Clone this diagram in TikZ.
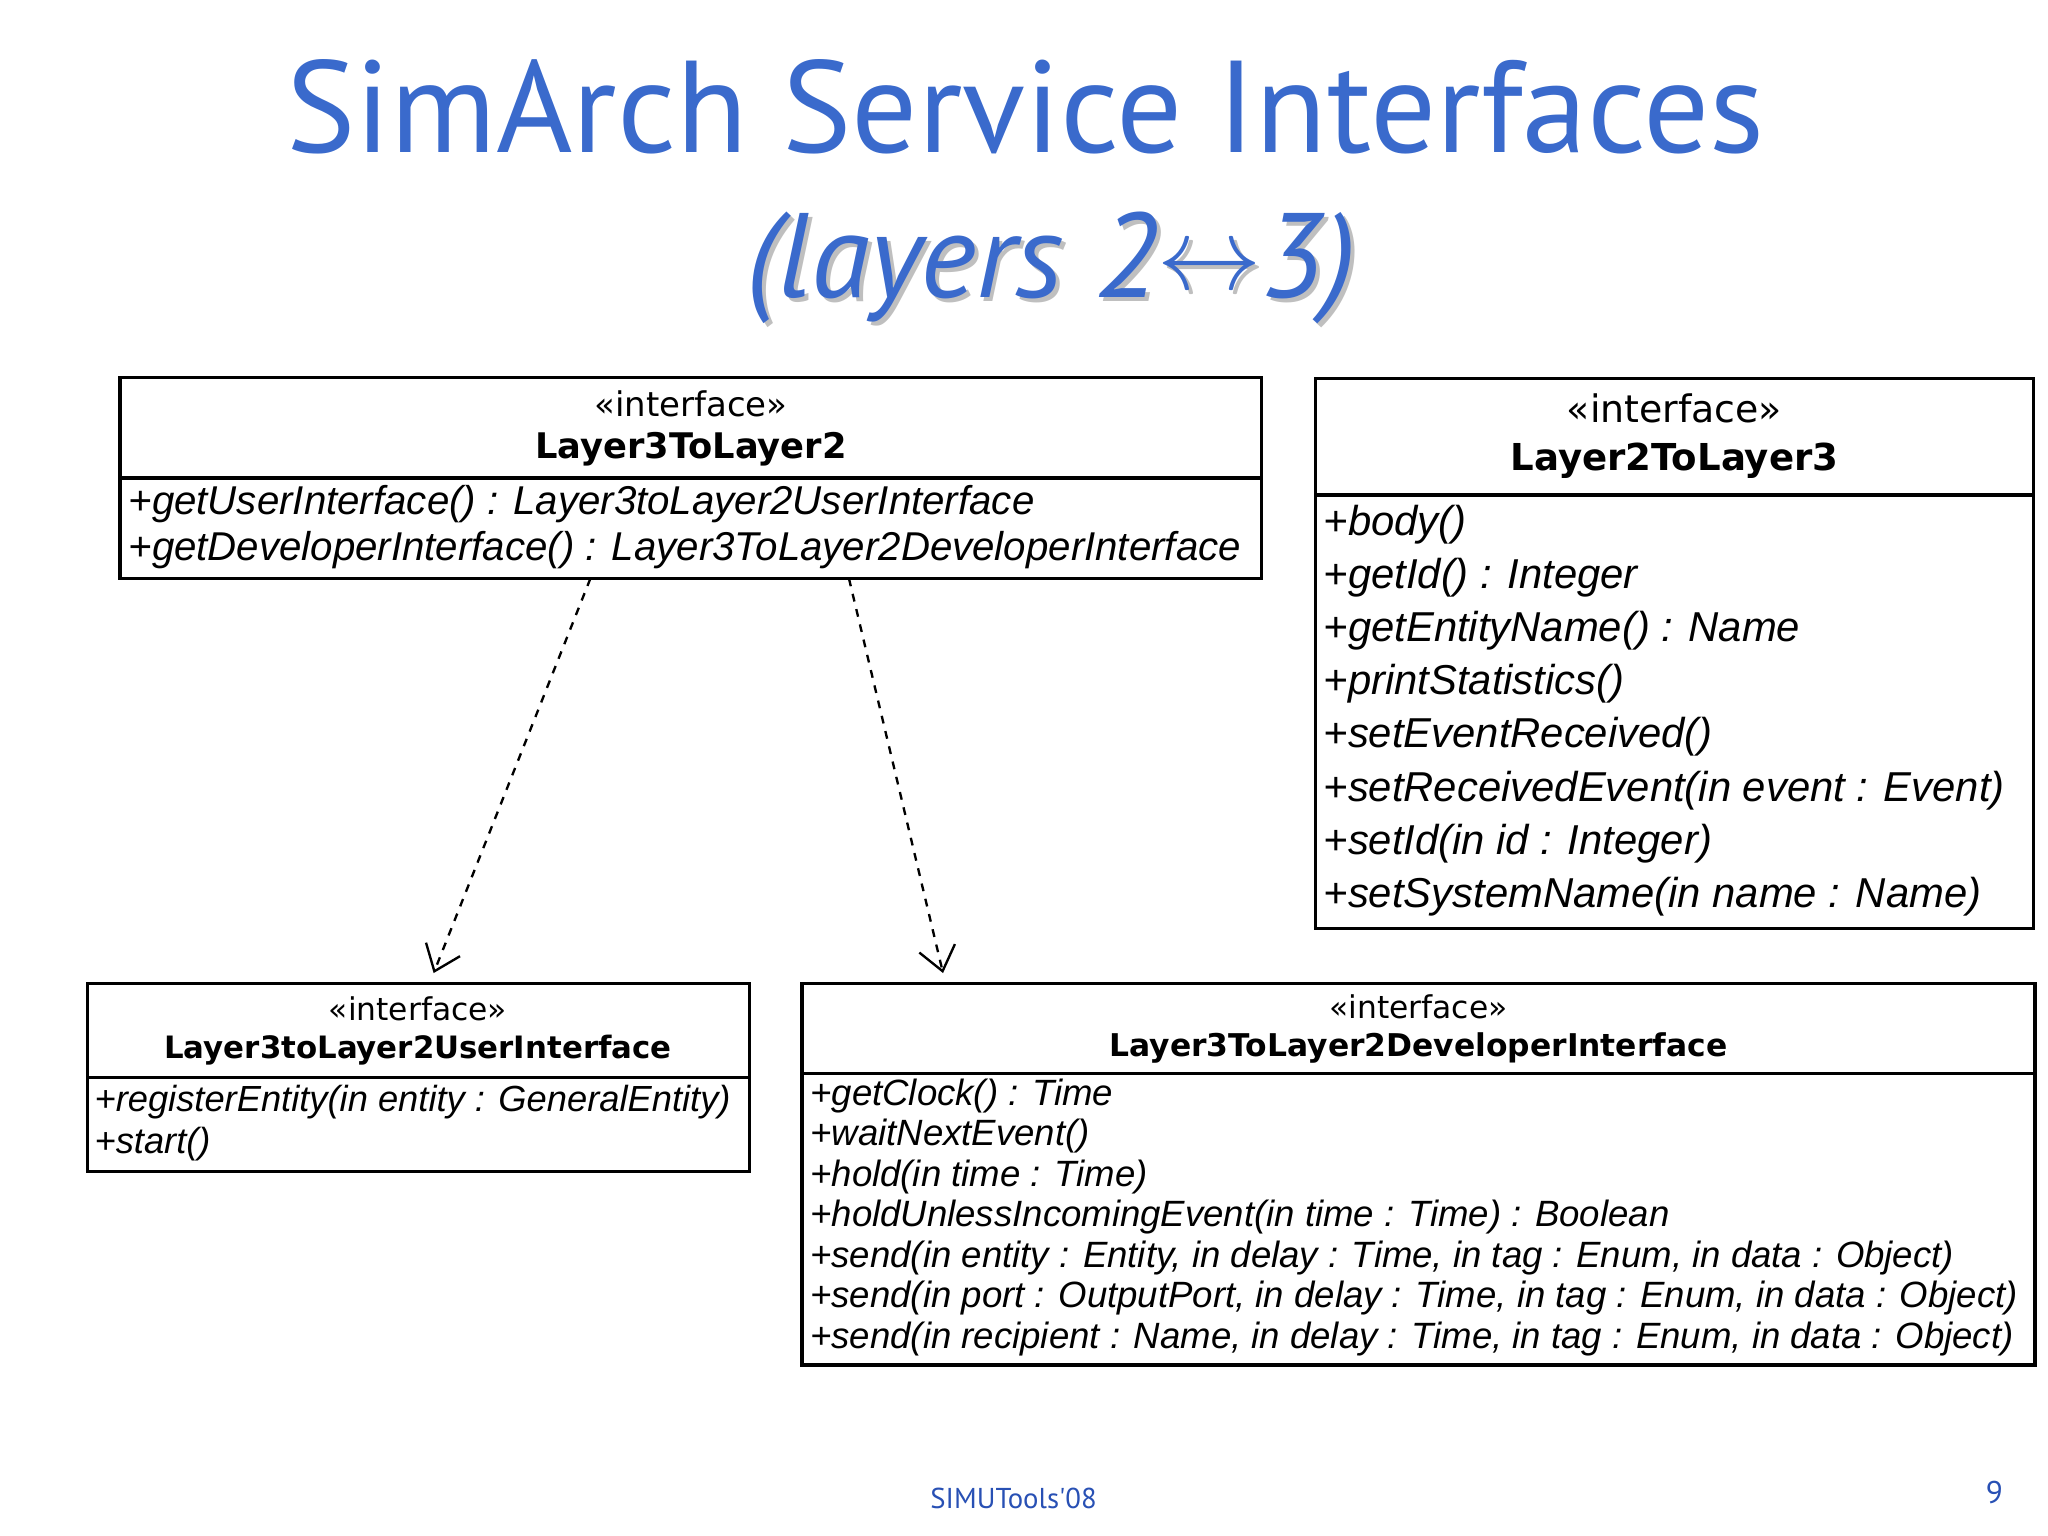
\documentclass[tikz,border=0pt]{standalone}
\usepackage{fontspec}
\setmainfont{Liberation Sans}
\newfontfamily\hdr{DejaVu Sans}
\newfontfamily\ttl{PT Sans}
\usetikzlibrary{arrows.meta}
\definecolor{ttlblue}{RGB}{58,106,204}
\definecolor{ftblue}{RGB}{40,80,180}
\newcommand{\subt}{(layers 2\raisebox{3pt}{\scalebox{1.6}{$\leftrightarrow$}}3)}
\tikzset{
  box/.style={draw,line width=1.3pt},
  st/.style={font=\hdr\fontsize{13}{15}\selectfont,inner sep=0pt},
  nm/.style={font=\hdr\bfseries\fontsize{#1}{#1}\selectfont,inner sep=0pt},
  m/.style={anchor=west,inner sep=0pt,font=\itshape\fontsize{#1}{#1}\selectfont},
  dep/.style={dashed,line width=0.9pt,-{Straight Barb[length=9pt,width=14pt]}}
}
\begin{document}
\begin{tikzpicture}[x=0.5pt,y=-0.5pt]
\useasboundingbox (0,0) rectangle (1568,1176);
\node[font=\ttl\fontsize{54}{60}\selectfont,text=ttlblue] (t1) at (785,82) {\resizebox{566pt}{!}{SimArch Service Interfaces}};
\node[font=\ttl\itshape\fontsize{46}{50}\selectfont,text=gray!50] (t2s) at (808,208) {\subt};
\node[font=\ttl\itshape\fontsize{46}{50}\selectfont,text=ttlblue] (t2) at (805,205) {\subt};
% A
\draw[box] (92,289) rectangle (966,443); \draw[box] (92,366) -- (966,366);
\node[st] (a0) at (529,309) {«interface»};
\node[nm=13.5] (a1) at (529,344) {Layer3ToLayer2};
\node[m=15.4] (a2) at (98,386) {+getUserInterface() : Layer3toLayer2UserInterface};
\node[m=15.4] (a3) at (98,421) {+getDeveloperInterface() : Layer3ToLayer2DeveloperInterface};
% B
\draw[box] (1007,290) rectangle (1557,711); \draw[box] (1007,379) -- (1557,379);
\node[st,font=\hdr\fontsize{14.5}{17}\selectfont] (b0) at (1282,313) {«interface»};
\node[nm=14.2] (b1) at (1282,353) {Layer2ToLayer3};
\foreach \t [count=\i from 0] in {+body(),+getId() : Integer,+getEntityName() : Name,+printStatistics(),+setEventReceived(),+setReceivedEvent(in event : Event),+setId(in id : Integer),+setSystemName(in name : Name)}
  \node[m=16] (b\i m) at (1013,402+40.6*\i) {\t};
% C
\draw[box] (67,753) rectangle (574,897); \draw[box] (67,825) -- (574,825);
\node[st,font=\hdr\fontsize{12}{14}\selectfont] (c0) at (320,772) {«interface»};
\node[nm=11.8] (c1) at (320,804) {Layer3toLayer2UserInterface};
\node[m=13.9] (c2) at (72,844) {+registerEntity(in entity : GeneralEntity)};
\node[m=13.9] (c3) at (72,876) {+start()};
% D
\draw[box] (614,753) rectangle (1558,1045); \draw[box] (614,822) -- (1558,822);
\node[st,font=\hdr\fontsize{12}{14}\selectfont] (d0) at (1086,771) {«interface»};
\node[nm=12] (d1) at (1086,802) {Layer3ToLayer2DeveloperInterface};
\foreach \t [count=\i from 0] in {+getClock() : Time,+waitNextEvent(),+hold(in time : Time),+holdUnlessIncomingEvent(in time : Time) : Boolean,{+send(in entity : Entity, in delay : Time, in tag : Enum, in data : Object)},{+send(in port : OutputPort, in delay : Time, in tag : Enum, in data : Object)},{+send(in recipient : Name, in delay : Time, in tag : Enum, in data : Object)}}
  \node[m=14] (d\i m) at (620,839+31*\i) {\t};
% arrows
\coordinate (p1) at (452,443); \coordinate (q1) at (332,745);
\coordinate (p2) at (650,443); \coordinate (q2) at (722,745);
\draw[dep] (p1) -- (q1);
\draw[dep] (p2) -- (q2);
\node[font=\ttl\fontsize{11}{12}\selectfont,text=ftblue] (f1) at (776,1147) {SIMUTools'08};
\node[font=\ttl\fontsize{12}{12}\selectfont,text=ftblue] (f2) at (1527,1143) {9};
\end{tikzpicture}
\end{document}
